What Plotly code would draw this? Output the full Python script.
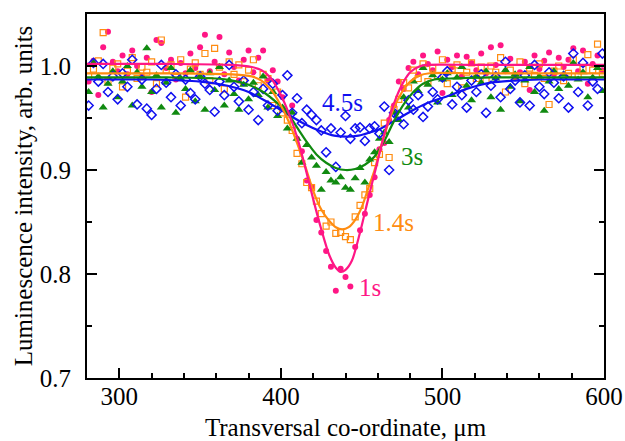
import plotly.graph_objects as go

# shared transverse sampling positions (µm)
X = [281, 284, 287, 290, 293, 296, 299, 302, 305, 308,
     311, 314, 317, 320, 323, 326, 329, 332, 335, 338,
     341, 344, 347, 350, 353, 356, 359, 362, 365, 368,
     371, 374, 377, 380, 383, 386, 389, 392, 395, 398,
     401, 404, 407, 410, 413, 416, 419, 422, 425, 428,
     431, 434, 437, 440, 443, 446, 449, 452, 455, 458,
     461, 464, 467, 470, 473, 476, 479, 482, 485, 488,
     491, 494, 497, 500, 503, 506, 509, 512, 515, 518,
     521, 524, 527, 530, 533, 536, 539, 542, 545, 548,
     551, 554, 557, 560, 563, 566, 569, 572, 575, 578,
     581, 584, 587, 590, 593, 596, 599]

Y_1S = [0.985, 1.005, 0.972, 1.018, 1.033, 1.004, 0.995, 1.010, 0.992, 1.015,
        1.000, 0.990, 1.008, 0.975, 1.025, 1.022, 0.998, 1.006, 0.987, 1.003,
        0.993, 1.012, 0.998, 1.018, 1.030, 0.995, 1.004, 1.028, 0.992, 1.013,
        0.999, 0.986, 1.006, 1.015, 0.994, 1.008, 1.015, 0.986, 0.996, 0.985,
        0.970, 0.955, 0.962, 0.930, 0.918, 0.890, 0.884, 0.852, 0.840, 0.822,
        0.807, 0.784, 0.805, 0.797, 0.788, 0.826, 0.842, 0.858, 0.876, 0.893,
        0.920, 0.926, 0.948, 0.962, 0.985, 0.978, 0.998, 1.004, 0.992, 1.010,
        1.002, 0.996, 1.014, 0.974, 1.006, 0.999, 1.010, 0.990, 1.009, 1.003,
        0.996, 1.012, 0.993, 1.018, 1.001, 1.020, 0.995, 1.007, 0.989, 0.994,
        1.004, 0.977, 1.010, 0.997, 1.005, 1.013, 0.992, 1.008, 0.999, 1.006,
        1.017, 0.995, 1.015, 0.983, 1.002, 1.010, 0.996]

Y_14S = [0.990, 0.997, 1.005, 1.032, 0.985, 0.998, 1.002, 0.980, 0.995, 1.008,
         0.988, 0.999, 0.994, 1.004, 0.983, 1.025, 0.996, 1.001, 0.989, 1.006,
         0.970, 0.997, 1.003, 0.992, 1.012, 0.986, 1.017, 0.999, 0.978, 1.004,
         0.992, 1.001, 0.985, 0.996, 1.006, 0.981, 0.992, 0.988, 0.962, 0.975,
         0.955, 0.948, 0.938, 0.916, 0.906, 0.888, 0.883, 0.870, 0.858, 0.846,
         0.850, 0.839, 0.840, 0.836, 0.833, 0.855, 0.866, 0.876, 0.882, 0.907,
         0.915, 0.945, 0.912, 0.958, 0.968, 0.984, 0.979, 0.996, 0.988, 1.002,
         0.985, 0.998, 0.990, 1.006, 0.983, 0.997, 1.001, 0.979, 0.994, 1.003,
         0.988, 0.999, 0.986, 1.000, 0.994, 1.008, 0.975, 0.996, 0.990, 1.004,
         0.983, 0.998, 0.991, 1.002, 0.988, 0.963, 0.995, 1.000, 0.986, 0.993,
         1.006, 0.990, 0.997, 1.011, 0.996, 1.021, 0.993]

Y_3S = [0.975, 1.003, 0.990, 0.960, 0.983, 0.995, 0.970, 0.985, 1.000, 0.962,
        0.994, 0.980, 1.017, 0.975, 0.991, 0.960, 0.984, 0.998, 0.955, 0.988,
        0.978, 0.996, 0.966, 0.990, 0.958, 0.993, 0.977, 0.999, 0.962, 0.986,
        0.973, 0.958, 0.982, 0.968, 0.984, 0.972, 0.990, 0.960, 0.975, 0.952,
        0.960, 0.940, 0.955, 0.930, 0.907, 0.924, 0.912, 0.904, 0.881, 0.898,
        0.890, 0.888, 0.893, 0.883, 0.881, 0.892, 0.902, 0.888, 0.910, 0.917,
        0.930, 0.936, 0.927, 0.955, 0.948, 0.970, 0.960, 0.985, 0.976, 0.998,
        0.982, 0.991, 0.965, 0.987, 0.993, 0.972, 0.989, 0.999, 0.981, 0.967,
        0.990, 0.984, 0.995, 0.970, 0.988, 0.958, 0.996, 0.980, 0.992, 0.966,
        0.986, 0.999, 0.975, 0.990, 0.957, 0.985, 0.995, 0.978, 0.992, 0.981,
        1.003, 0.987, 0.994, 0.970, 0.989, 0.998, 0.976]

Y_45S = [0.962, 1.003, 0.985, 1.002, 0.975, 0.990, 0.968, 0.993, 0.980, 1.006,
         0.963, 0.987, 0.959, 0.953, 0.978, 1.001, 0.984, 0.970, 0.992, 0.962,
         0.987, 0.974, 0.968, 0.990, 0.983, 0.977, 0.956, 0.985, 0.972, 1.001,
         0.980, 0.966, 0.986, 0.958, 0.975, 0.948, 0.978, 0.962, 0.983, 0.957,
         0.972, 0.991, 0.955, 0.969, 0.945, 0.958, 0.953, 0.948, 0.938, 0.917,
         0.940, 0.903, 0.936, 0.952, 0.930, 0.940, 0.941, 0.928, 0.940, 0.942,
         0.935, 0.961, 0.900, 0.955, 0.953, 0.944, 0.967, 0.958, 0.972, 0.951,
         0.961, 0.975, 0.968, 0.989, 0.995, 0.963, 0.980, 0.972, 0.960, 0.986,
         0.975, 0.992, 0.955, 0.981, 0.990, 0.970, 1.004, 0.978, 0.986, 0.965,
         0.991, 0.962, 1.001, 0.980, 0.973, 0.994, 0.984, 0.969, 0.990, 0.960,
         1.012, 0.975, 1.003, 0.962, 0.985, 0.978, 1.012]

# fitted curves
FIT_1S_X = [280, 330, 370, 382, 388, 394, 400, 405, 410, 415, 420, 425, 430, 434, 437,
            440, 444, 449, 454, 459, 464, 468, 472, 476, 480, 485, 490, 520, 560, 600]
FIT_1S_Y = [1.002, 1.002, 1.001, 0.999, 0.996, 0.988, 0.972, 0.954, 0.932, 0.903, 0.872,
            0.843, 0.818, 0.806, 0.802, 0.804, 0.813, 0.840, 0.872, 0.903, 0.934, 0.955,
            0.972, 0.985, 0.994, 0.999, 1.001, 1.001, 1.001, 1.001]

FIT_14S_X = [280, 330, 370, 382, 388, 394, 400, 405, 410, 415, 420, 425, 430, 434, 438,
             442, 446, 450, 454, 458, 462, 466, 470, 475, 480, 486, 492, 520, 560, 600]
FIT_14S_Y = [0.993, 0.993, 0.992, 0.990, 0.986, 0.977, 0.962, 0.946, 0.926, 0.904, 0.880,
             0.862, 0.851, 0.845, 0.843, 0.845, 0.852, 0.864, 0.882, 0.900, 0.923, 0.943,
             0.960, 0.975, 0.985, 0.991, 0.993, 0.993, 0.993, 0.993]

FIT_3S_X = [280, 330, 360, 370, 380, 390, 398, 404, 410, 416, 422, 428, 434, 440, 446,
            452, 458, 464, 470, 476, 482, 488, 495, 505, 530, 560, 600]
FIT_3S_Y = [0.989, 0.989, 0.988, 0.986, 0.982, 0.974, 0.964, 0.955, 0.941, 0.927, 0.915,
            0.907, 0.902, 0.900, 0.901, 0.905, 0.913, 0.928, 0.947, 0.963, 0.975, 0.983,
            0.987, 0.988, 0.989, 0.989, 0.989]

FIT_45S_X = [280, 320, 350, 367, 380, 392, 405, 415, 425, 433, 441, 448, 455, 462, 470,
             480, 490, 503, 515, 530, 545, 560, 600]
FIT_45S_Y = [0.987, 0.987, 0.985, 0.981, 0.975, 0.965, 0.953, 0.944, 0.937, 0.933, 0.932,
             0.933, 0.936, 0.940, 0.947, 0.956, 0.964, 0.971, 0.978, 0.984, 0.986, 0.987,
             0.987]

LABELS = ["1s", "1.4s", "3s", "4.5s"]
LABEL_X = [455, 470, 481, 438]
LABEL_Y = [0.787, 0.850, 0.913, 0.965]

for arr in (Y_1S, Y_14S, Y_3S, Y_45S):
    assert len(arr) == len(X), len(arr)
assert len(FIT_1S_X) == len(FIT_1S_Y)
assert len(FIT_14S_X) == len(FIT_14S_Y)
assert len(FIT_3S_X) == len(FIT_3S_Y)
assert len(FIT_45S_X) == len(FIT_45S_Y)

C_1S = "#FF1685"
C_14S = "#FF8C10"
C_3S = "#108A10"
C_45S = "#1010F0"
FONT = "Liberation Serif"
FS = 25

fig = go.Figure()
fig.add_trace(go.Scatter(x=X, y=Y_1S, mode="markers",
                         marker=dict(symbol="circle", size=6, color=C_1S)))
fig.add_trace(go.Scatter(x=X, y=Y_14S, mode="markers",
                         marker=dict(symbol="square-open", size=6, color=C_14S,
                                     line=dict(width=1.2, color=C_14S))))
fig.add_trace(go.Scatter(x=X, y=Y_3S, mode="markers",
                         marker=dict(symbol="triangle-up", size=8, color=C_3S)))
fig.add_trace(go.Scatter(x=X, y=Y_45S, mode="markers",
                         marker=dict(symbol="diamond-open", size=7, color=C_45S,
                                     line=dict(width=1.5, color=C_45S))))

for fx, fy, c in ((FIT_45S_X, FIT_45S_Y, C_45S), (FIT_3S_X, FIT_3S_Y, C_3S),
                  (FIT_14S_X, FIT_14S_Y, C_14S), (FIT_1S_X, FIT_1S_Y, C_1S)):
    fig.add_trace(go.Scatter(x=fx, y=fy, mode="lines",
                             line=dict(color=c, width=2.2, shape="spline", smoothing=0.8)))

for t, lx, ly, c in zip(LABELS, LABEL_X, LABEL_Y, (C_1S, C_14S, C_3S, C_45S)):
    fig.add_annotation(x=lx, y=ly, xref="x", yref="y", text=t, showarrow=False,
                       font=dict(family=FONT, size=FS, color=c))

fig.update_layout(
    width=625, height=441,
    margin=dict(l=87, r=21, t=14, b=63),
    paper_bgcolor="white", plot_bgcolor="white",
    showlegend=False,
    font=dict(family=FONT, size=FS, color="black"),
    xaxis=dict(range=[280, 600], tick0=0, dtick=100, ticks="inside", ticklen=10,
               tickwidth=1.5, tickcolor="black", showline=True, linecolor="black",
               linewidth=2, mirror=True, showgrid=False, zeroline=False,
               automargin=False,
               minor=dict(dtick=20, ticks="inside", ticklen=5, tickwidth=1.5,
                          tickcolor="black", showgrid=False),
               tickfont=dict(family=FONT, size=FS, color="black"),
               ticklabelstandoff=-5,
               title=dict(text="Transversal co-ordinate, μm", standoff=12,
                          font=dict(family=FONT, size=FS, color="black"))),
    xaxis2=dict(range=[280, 600], overlaying="x", side="top", tick0=0, dtick=100,
                ticks="inside", ticklen=10, tickwidth=1.5, tickcolor="black",
                showticklabels=False, showline=False, showgrid=False, zeroline=False),
    yaxis=dict(range=[0.7, 1.05], tick0=0.7, dtick=0.1, tickformat=".1f",
               ticks="inside", ticklen=10, tickwidth=1.5, tickcolor="black",
               showline=True, linecolor="black", linewidth=2, mirror="ticks",
               showgrid=False, zeroline=False, automargin=False,
               minor=dict(dtick=0.05, ticks="inside", ticklen=5, tickwidth=1.5,
                          tickcolor="black", showgrid=False),
               tickfont=dict(family=FONT, size=FS, color="black"),
               ticklabelstandoff=9,
               title=dict(text="Luminescence intensity, arb. units", standoff=0,
                          font=dict(family=FONT, size=FS, color="black"))),
)

fig.write_html("out.html")
